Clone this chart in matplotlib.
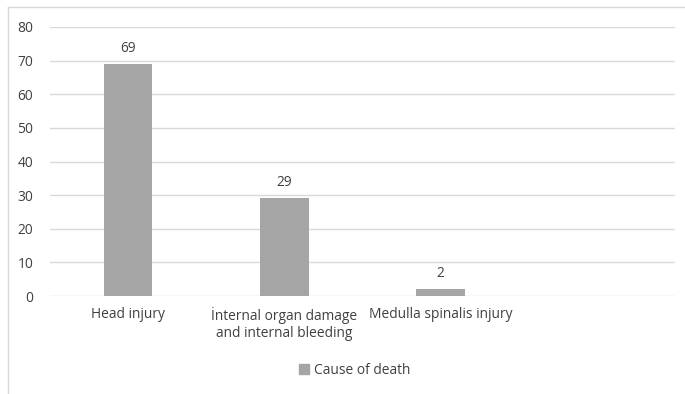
import matplotlib
matplotlib.use("Agg")
import matplotlib.pyplot as plt
from matplotlib.lines import Line2D
from matplotlib.patches import Patch

categories = ["Head injury", "İnternal organ damage\nand internal bleeding", "Medulla spinalis injury", ""]
values = [69, 29, 2, None]
series_name = "Cause of death"
yticks = [0, 10, 20, 30, 40, 50, 60, 70, 80]

plt.rcParams['font.family'] = ['Open Sans', 'DejaVu Sans']
text_color = "#404040"
bar_color = "#A5A5A5"
grid_color = "#D9D9D9"
fs = 9.9

W, H = 685, 394
fig = plt.figure(figsize=(W / 100, H / 100), dpi=100)
ax = fig.add_axes([50 / W, 1 - 296 / H, 625 / W, (296 - 27) / H])

xs = list(range(len(categories)))
bx = [x for x, v in zip(xs, values) if v is not None]
bv = [v for v in values if v is not None]
ax.bar(bx, bv, width=0.31, color=bar_color, zorder=3)
for x, v in zip(bx, bv):
    ax.annotate(str(v), (x, v), xytext=(0, 6), textcoords="offset points",
                ha="center", va="bottom", fontsize=fs, color=text_color)

ax.set_xlim(-0.5, len(categories) - 0.5)
ax.set_ylim(0, 80)
ax.set_yticks(yticks)
ax.set_xticks(xs)
ax.set_xticklabels(categories, fontsize=fs, color=text_color, linespacing=1.2)
ax.tick_params(axis="y", labelsize=fs, labelcolor=text_color, length=0, pad=12)
ax.tick_params(axis="x", length=0, pad=8)
ax.grid(axis="y", color=grid_color, linewidth=1, zorder=0)
for s in ax.spines.values():
    s.set_visible(False)

# chart frame
fig.add_artist(Line2D([8 / W, 1], [1 - 7 / H, 1 - 7 / H], color=grid_color, linewidth=1))
fig.add_artist(Line2D([8 / W, 8 / W], [0, 1 - 7 / H], color=grid_color, linewidth=1))

fig.legend(handles=[Patch(color=bar_color, label=series_name)], loc="center",
           bbox_to_anchor=(355 / W, 1 - 370 / H), frameon=False, fontsize=fs,
           handlelength=0.7, handleheight=0.7, handletextpad=0.4, labelcolor=text_color)

fig.savefig("out.png", dpi=100)
